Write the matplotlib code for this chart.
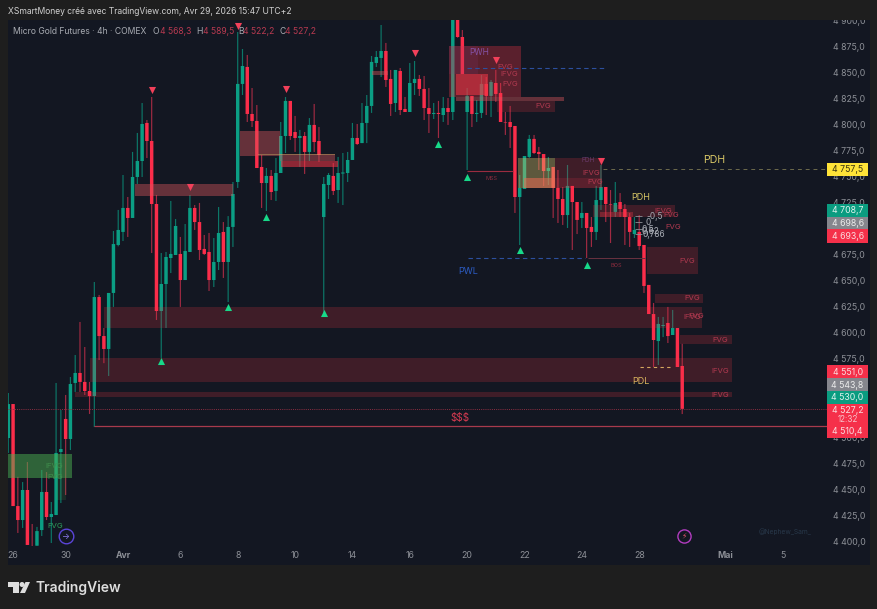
import matplotlib
matplotlib.use("Agg")
import matplotlib.pyplot as plt
from matplotlib.patches import Rectangle, Polygon, Ellipse

plt.rcParams['font.family'] = ['Inter', 'DejaVu Sans']

W, H = 878, 609

opens = [4499.2, 4531.8, 4434, 4420.6, 4449.4, 4393, 4396, 4411, 4447.5, 4423.5,
         4425.4, 4485.8, 4517.5, 4498.3, 4552, 4561.6, 4553, 4544.3, 4539.5, 4634.4,
         4597, 4584.6, 4638.3, 4684.3, 4696.8, 4719.8, 4710.2, 4749.5, 4764.8, 4801.3,
         4784, 4723.6, 4621, 4646.9, 4671.8, 4674.7, 4675.7, 4650.7, 4677.6, 4719.8,
         4706.3, 4680.5, 4677.6, 4650.7, 4668, 4696.8, 4668, 4701.6, 4744.7, 4838.7,
         4855, 4809.9, 4803.2, 4759.1, 4743.7, 4750.5, 4736.1, 4753.3, 4788.8, 4822.4,
         4792.6, 4786.9, 4788.8, 4773.5, 4799.4, 4784, 4711.1, 4741.8, 4750.5, 4737,
         4752.8, 4753.3, 4765.8, 4786.9, 4782, 4801.3, 4817.6, 4858.8, 4863.6, 4870.3,
         4843.5, 4820.4, 4851.1, 4814.7, 4811.8, 4839.6, 4843.5, 4833.9, 4815.6, 4809.9,
         4810.9, 4808.9, 4815.6, 4811.8, 4908, 4883.7, 4811.8, 4827.2, 4809.9, 4810.9,
         4838.7, 4827.2, 4839.6, 4830, 4802.2, 4802.2, 4798.4, 4730.3, 4738, 4768.7,
         4786, 4773.5, 4771.5, 4755.2, 4759.1, 4739, 4728.4, 4713, 4740.9, 4725.5,
         4710.2, 4715, 4701.6, 4696.8, 4727.4, 4739.9, 4723.6, 4716, 4725.5, 4718.8,
         4711.1, 4694.8, 4696.8, 4684.3, 4646, 4618.1, 4592.2, 4606.6, 4609.5, 4598,
         4604.7, 4568.3]
highs = [4542.4, 4531.8, 4462, 4457, 4476.2, 4416.8, 4414, 4468.6, 4466.6, 4437.9,
         4552, 4526.1, 4540.5, 4557.7, 4578.8, 4610.5, 4586.5, 4553, 4648.8, 4636.4,
         4604.7, 4638.3, 4697.7, 4717.9, 4751.4, 4730.3, 4773.5, 4791.7, 4820.4, 4804.1,
         4826.2, 4732.2, 4676.6, 4677.6, 4726.5, 4709.2, 4692, 4704.4, 4732.2, 4722.6,
         4724.6, 4693.9, 4695.8, 4691, 4720.7, 4706.3, 4712, 4744.7, 4888.5, 4872.2,
         4866.5, 4834.8, 4818.5, 4770.6, 4758.1, 4756.2, 4767.7, 4802.2, 4826.2, 4822.4,
         4808, 4794.6, 4792.6, 4806, 4819.5, 4797.4, 4749.5, 4753.3, 4762.9, 4768.7,
         4772.5, 4773.5, 4801.3, 4800.3, 4820.4, 4828.1, 4865.5, 4870.3, 4895.2, 4878,
         4852.1, 4852.1, 4854, 4826.2, 4858.8, 4860.7, 4847.3, 4846.3, 4834.8, 4820.4,
         4822.4, 4826.2, 4825.2, 4910, 4910, 4890.4, 4834.8, 4827.2, 4823.3, 4847.3,
         4845.4, 4842.5, 4852.1, 4839.6, 4811.8, 4817.6, 4798.4, 4751.4, 4769.6, 4789.8,
         4789.8, 4778.3, 4771.5, 4768.7, 4759.1, 4756.2, 4739.9, 4761, 4740.9, 4725.5,
         4725.5, 4715, 4711.1, 4740.9, 4761, 4739.9, 4737, 4744.7, 4734.1, 4723.6,
         4715, 4711.1, 4713, 4684.3, 4646, 4628.7, 4615.3, 4615.3, 4624.9, 4622,
         4604.7, 4589.5]
lows = [4484.9, 4434, 4408.2, 4413, 4396.7, 4386, 4396, 4405.3, 4420.6, 4398.6,
        4425.4, 4436.9, 4444.6, 4487.7, 4543.4, 4543.4, 4540.5, 4522.3, 4509.8, 4574,
        4571, 4558.7, 4624.9, 4683, 4688.1, 4692, 4710.2, 4742.8, 4749.5, 4767.7,
        4676.6, 4612.4, 4576, 4604.7, 4657.4, 4674.7, 4624.9, 4650.7, 4677.6, 4698.7,
        4669.9, 4674.7, 4640.2, 4644, 4660.3, 4652.7, 4629.6, 4682.4, 4739, 4828.1,
        4802.2, 4797.4, 4758.1, 4719.8, 4716.9, 4727.4, 4726.5, 4753.3, 4772.5, 4785,
        4773.5, 4759.1, 4752.4, 4764.8, 4773.5, 4763.9, 4619.1, 4728.4, 4732.2, 4724.6,
        4722.6, 4744.7, 4765.8, 4780.2, 4782, 4782, 4810.9, 4855, 4845.4, 4835.8,
        4808, 4811.8, 4808.9, 4811.8, 4811.8, 4828.1, 4827.2, 4804.1, 4791.7, 4805.1,
        4786.9, 4802.2, 4799.4, 4804.1, 4883, 4848.2, 4756.2, 4797.4, 4802.2, 4806,
        4808.9, 4807, 4821.4, 4802.2, 4789.8, 4777.3, 4715, 4684.3, 4738, 4767.7,
        4771.5, 4756.2, 4740.9, 4741.8, 4710.2, 4705.4, 4703.5, 4700.6, 4679.5, 4694.8,
        4700.6, 4671.8, 4682.4, 4689.1, 4717.9, 4706.3, 4686.2, 4711.1, 4711.1, 4684.3,
        4682.4, 4691, 4679.5, 4638.3, 4618.1, 4567.3, 4569.2, 4596, 4590.3, 4598,
        4567.3, 4522.2]
closes = [4531.8, 4434, 4420.6, 4449.4, 4396.7, 4386, 4410, 4447.5, 4423.5, 4426.4,
          4484.9, 4488.7, 4498.3, 4551, 4561.6, 4553, 4544.3, 4539.5, 4634.4, 4597,
          4584.6, 4638.3, 4685.2, 4698.7, 4719.8, 4710.2, 4749.5, 4764.8, 4800.3, 4784,
          4723.6, 4621, 4646.9, 4672.8, 4675.7, 4702.5, 4650.7, 4678.5, 4719.8, 4706.3,
          4679.5, 4675.7, 4650.7, 4668, 4695.8, 4668, 4701.6, 4733.2, 4838.7, 4855.9,
          4809.9, 4803.2, 4758.1, 4743.7, 4750.5, 4735.1, 4753.3, 4788.8, 4822.4, 4788.8,
          4786.9, 4788.8, 4773.5, 4799.4, 4783, 4770.6, 4742.8, 4751.4, 4736.1, 4753.3,
          4753.8, 4765.8, 4786.9, 4781.1, 4801.3, 4817.6, 4859.8, 4864.5, 4870.3, 4842.5,
          4819.5, 4852.1, 4813.7, 4811.8, 4839.6, 4843.5, 4833.9, 4815.6, 4809.9, 4810.9,
          4809.9, 4815.6, 4811.8, 4908, 4883.7, 4848.2, 4827.2, 4809.9, 4810.9, 4838.7,
          4827.2, 4840.6, 4829.1, 4802.2, 4801.7, 4797.4, 4730.3, 4739, 4769.6, 4786,
          4772.5, 4771.5, 4755.2, 4758.1, 4739, 4728.4, 4713, 4740.9, 4725.5, 4708.3,
          4715, 4700.6, 4696.8, 4727.4, 4739.9, 4723.6, 4723, 4724.6, 4718.8, 4711.1,
          4696.8, 4698.7, 4683.3, 4645, 4618.1, 4593.2, 4608.6, 4607.6, 4597, 4604.7,
          4567.3, 4527.2]

price_ticks = list(range(4400, 4925, 25))
date_bars = [1, 12, 24, 36, 48, 60, 72, 84, 96, 108, 120, 132, 150, 162]
date_labels = ['26', '30', 'Avr', '6', '8', '10', '14', '16', '20', '22', '24', '28', 'Mai', '5']

# swing markers
swing_high_bars = [30, 38, 48, 58, 85, 102, 124]
swing_high_prices = [4832.9, 4739.9, 4894.3, 4833.9, 4868.4, 4861.7, 4764.8]
swing_low_bars = [46, 32, 54, 66, 90, 96, 107, 121]
swing_low_prices = [4624.9, 4573, 4711.1, 4619.1, 4781.1, 4749.5, 4679.5, 4665.1]

# zones: start bar, end bar, top price, bottom price
faint_zones = [(20, 145.1, 4624.9, 4604.7), (17.1, 151.4, 4575.5, 4553), (13.95, 151.4, 4543.4, 4538.5),
               (102.2, 114.4, 4822.4, 4811.8), (114.4, 124.2, 4767.7, 4748.5), (122.3, 139.5, 4722.6, 4711.1),
               (133.6, 144.3, 4682.4, 4656.5), (135.3, 145.3, 4637.3, 4628.7), (140.5, 151.4, 4598, 4589.4)]
mid_zones = [(92.2, 107.3, 4875.1, 4826.2), (114.4, 124.2, 4748.5, 4739), (123.8, 130.7, 4716, 4711.1)]
muted_zones = [(26.5, 47, 4742.8, 4731.3), (48.5, 56.8, 4793.6, 4769.6), (56.8, 68.3, 4771.5, 4764.8),
               (76, 79.4, 4851.1, 4847.3), (93.7, 116.3, 4826.2, 4822.4)]
tint_zones = [(92.2, 98.3, 4875.1, 4848.2)]
strong_zones = [(57, 69, 4764.8, 4759.1), (93.7, 100.4, 4848.2, 4828.1), (107.9, 114.4, 4748.5, 4739)]
tan_zones = [(106.6, 114.4, 4767.7, 4739), (52.2, 68.3, 4771.5, 4770.5)]
green_zones = [(-0.1, 13.3, 4483.9, 4460.9)]
pale_green_zones = [(10, 12, 4460.9, 4439.8)]

# zone and structure labels: bar, price, text
red_labels = [(103.9, 4855, 'FVG'), (104.8, 4848.2, 'IFVG'), (105, 4838.7, 'FVG'), (111.9, 4817.6, 'FVG'),
              (121.9, 4753.3, 'IFVG'), (122.7, 4744.7, 'FVG'), (137, 4716.9, 'IFVG'), (138.6, 4713, 'FVG'),
              (139.1, 4701.6, 'FVG'), (142, 4669, 'FVG'), (143, 4633.5, 'FVG'), (143, 4615.3, 'IFVG'),
              (144, 4616.2, 'FVG'), (149, 4593.2, 'FVG'), (148.9, 4563.5, 'IFVG'), (148.9, 4540.5, 'IFVG')]
green_labels = [(9.6, 4472.4, 'IFVG'), (9.8, 4461.8, 'FVG')]
fib_labels = [(135.3, 4712, '-0,5'), (133.8, 4706.3, '0'), (133.8, 4699.6, '0,5'),
              (134.4, 4696.8, '0,62'), (135.1, 4694.8, '0,786')]
fib_prices = [4712, 4706.3, 4699.6, 4694.8]

# price tags on the axis: centre price, text, fill, text colour
tag_prices = [4756.7, 4716.9, 4704.9, 4692.9, 4562.5, 4550, 4537.6]
tag_texts = ['4\u00a0757,5', '4\u00a0708,7', '4\u00a0698,6', '4\u00a0693,6', '4\u00a0551,0', '4\u00a0543,8', '4\u00a0530,0']
tag_fills = ['#ffe338', '#0a9c80', '#85868d', '#f5304a', '#f5304a', '#85868d', '#0a9c80']
tag_colors = ['#3a3410', '#dff3ee', '#ececec', '#fbdcdf', '#fbdcdf', '#ececec', '#dff3ee']

BG = '#1e1e1e'
PANE = '#131722'
GREEN = '#0b9e84'
RED = '#fb2d4a'
GREEN_WICK = '#0c7768'
RED_WICK = '#a02a42'
AXIS_TEXT = '#8d9097'
LABEL_RED = '#b23a50'


def fig_text(x, y, s, **kw):
    kw.setdefault('va', 'center')
    kw.setdefault('zorder', 21)
    return fig.text(x / W, 1 - y / H, s, **kw)


def fig_rect(x0, y0, x1, y1, color, zorder):
    fig.add_artist(Rectangle((x0 / W, 1 - y1 / H), (x1 - x0) / W, (y1 - y0) / H,
                             transform=fig.transFigure, facecolor=color, edgecolor='none', zorder=zorder))


def draw_zones(zones, color, alpha):
    for start, end, top, bottom in zones:
        ax.add_patch(Rectangle((start, bottom), end - start, top - bottom,
                               facecolor=color, edgecolor='none', alpha=alpha, zorder=4))


fig = plt.figure(figsize=(W / 100, H / 100), dpi=100, facecolor=BG)
fig_rect(8, 20, 870, 565, PANE, -5)

ax = fig.add_axes([8 / W, 1 - 546 / H, 820 / W, 526 / H], facecolor='none')
ax.set_xlim(-0.06, 171.5)
ax.set_ylim(4395.7, 4900)
for s in ax.spines.values():
    s.set_visible(False)

bars = list(range(len(opens)))
wick_colors = [GREEN_WICK if c >= o else RED_WICK for o, c in zip(opens, closes)]
body_colors = [GREEN if c >= o else RED for o, c in zip(opens, closes)]
wicks = ax.vlines(bars, lows, highs, colors=wick_colors, linewidth=0.85, zorder=2)
wicks.set_snap(False)
bodies = ax.bar(bars, [abs(c - o) for o, c in zip(opens, closes)], bottom=[min(o, c) for o, c in zip(opens, closes)],
                width=0.72, color=body_colors, linewidth=0, zorder=3)
for body in bodies:
    body.set_snap(False)

draw_zones(faint_zones, '#f23645', 0.2)
draw_zones(mid_zones, '#f23645', 0.32)
draw_zones(muted_zones, '#d8565c', 0.42)
draw_zones(tint_zones, '#8a3f78', 0.16)
draw_zones(strong_zones, '#f23645', 0.55)
draw_zones(tan_zones, '#d7c36a', 0.38)
draw_zones(green_zones, '#4caf50', 0.5)
draw_zones(pale_green_zones, '#4caf50', 0.14)

# levels
ax.hlines(4527.2, 0, 171.5, colors='#8c2f42', linewidth=0.7, linestyles=(0, (1, 1.2)), zorder=5)
ax.hlines(4510.4, 18, 171.5, colors='#a83a4c', linewidth=0.9, zorder=5)
ax.hlines(4757.5, 124.4, 171, colors='#6d6a4c', linewidth=0.7, linestyles=(0, (4, 4)), zorder=5)
ax.hlines(4671.4, 96.2, 120.6, colors='#2c4f9e', linewidth=0.8, linestyles=(0, (4, 3)), zorder=5)
ax.hlines(4671.4, 121.3, 133.2, colors='#6a3240', linewidth=0.7, zorder=5)
ax.hlines(4854.3, 96, 125.2, colors='#2c4f9e', linewidth=0.8, linestyles=(0, (4, 3)), zorder=5)
ax.hlines(4755.6, 96, 105.6, colors='#9a2c40', linewidth=0.8, zorder=5)
ax.hlines(4567.3, 132.2, 138.4, colors='#d6a860', linewidth=0.8, linestyles=(0, (3, 3)), zorder=5)
ax.hlines(fib_prices, 131.2, 132.6, colors='#8d9097', linewidth=0.6, zorder=5)

ax.scatter(swing_high_bars, swing_high_prices, marker='v', s=26, color='#f2405a', linewidths=0, zorder=6)
ax.scatter(swing_low_bars, swing_low_prices, marker='^', s=26, color='#17d989', linewidths=0, zorder=6)

for bar, price, text in red_labels:
    ax.text(bar, price, text, color=LABEL_RED, fontsize=5.6, ha='center', va='center', zorder=7)
for bar, price, text in green_labels:
    ax.text(bar, price, text, color='#3f8f4c', fontsize=5.6, ha='center', va='center', zorder=7)
for bar, price, text in fib_labels:
    ax.text(bar, price, text, color='#a9adb5', fontsize=6, ha='center', va='center', zorder=7)

ax.text(9.8, 4414.9, 'FVG', color='#2f9e5c', fontsize=5.6, ha='center', va='center', zorder=7)
ax.text(121.3, 4765.8, 'PDH', color='#6b3c6e', fontsize=4.6, ha='center', va='center', zorder=7)
ax.text(96.4, 4869.3, 'PWH', color='#8453a8', fontsize=6, ha='left', va='center', zorder=7)
ax.text(101.2, 4748.5, 'MSS', color='#8c2c3e', fontsize=4, ha='center', va='center', zorder=7)
ax.text(127.3, 4664.2, 'BOS', color='#8c2c3e', fontsize=4, ha='center', va='center', zorder=7)
ax.text(96.2, 4658.4, 'PWL', color='#2c5cc4', fontsize=6.6, ha='center', va='center', zorder=7)
ax.text(132.4, 4730.3, 'PDH', color='#d9c766', fontsize=6.5, ha='center', va='center', zorder=7)
ax.text(147.6, 4765.8, 'PDH', color='#d9c766', fontsize=7.6, ha='center', va='center', zorder=7)
ax.text(132.4, 4553, 'PDL', color='#d9b45e', fontsize=6.5, ha='center', va='center', zorder=7)
ax.text(94.5, 4518.4, '$$$', color='#d23a50', fontsize=7.2, ha='center', va='center', zorder=7)

ax.text(162.5, 4409.5, '@Nephew_Sam_', color='#28384a', fontsize=4.8, ha='center', va='center', zorder=7)

# session break and alert badges
ax.plot([12], [4405.3], 'o', ms=10.5, mfc=PANE, mec='#5b45d8', mew=1.0, zorder=8)
ax.text(12, 4405.3, '\u2192', color='#8d7cf0', fontsize=6, ha='center', va='center', zorder=9)
ax.plot([141.4], [4405.3], 'o', ms=9.5, mfc=PANE, mec='#b23cc0', mew=1.0, zorder=8)
ax.text(141.4, 4405.3, '\u26a1', color='#e0526c', fontsize=5.5, ha='center', va='center', family='DejaVu Sans', zorder=9)

ax.set_yticks(price_ticks)
ax.set_yticklabels([f"{p:,.1f}".replace(",", "\u00a0").replace(".", ",") for p in price_ticks])
ax.yaxis.tick_right()
ax.tick_params(axis='y', length=0, pad=3.6, labelsize=6.3, labelcolor=AXIS_TEXT)
ax.set_xticks(date_bars)
ax.set_xticklabels(date_labels)
ax.tick_params(axis='x', length=0, pad=3.6, labelsize=6.3, labelcolor=AXIS_TEXT)
for lbl in ax.get_xticklabels():
    if lbl.get_text() in ('Avr', 'Mai'):
        lbl.set_fontweight('bold')

# axis price tags
for price, text, fill, color in zip(tag_prices, tag_texts, tag_fills, tag_colors):
    ax.add_patch(Rectangle((171.3, price - 6.3), 8.6, 12.6, facecolor=fill, edgecolor='none', clip_on=False, zorder=10))
    ax.text(175.6, price, text, color=color, fontsize=6.3, ha='center', va='center', clip_on=False, zorder=11)
ax.add_patch(Rectangle((171.3, 4499.2), 8.6, 32.6, facecolor='#f5304a', edgecolor='none', clip_on=False, zorder=10))
ax.text(175.6, 4526, '4\u00a0527,2', color='#fbdcdf', fontsize=6.3, ha='center', va='center', zorder=11)
ax.text(175.6, 4517, '12:32', color='#f7c3ca', fontsize=5.8, ha='center', va='center', zorder=11)
ax.text(175.6, 4505.5, '4\u00a0510,4', color='#fbdcdf', fontsize=6.3, ha='center', va='center', zorder=11)

# header and legend
fig_rect(0, 0, W, 20, BG, 20)
fig_rect(0, 565, W, H, BG, 20)
fig_text(8, 11.5, 'XSmartMoney créé avec TradingView.com, Avr 29, 2026 15:47 UTC+2', color='#cfcfcf', fontsize=6.15)
fig_text(13, 31, 'Micro Gold Futures · 4h · COMEX', color='#a8abb2', fontsize=6.2)
for x, letter in [(153, 'O'), (196, 'H'), (238, 'B'), (279, 'C')]:
    fig_text(x, 31, letter, color='#a8abb2', fontsize=6.2)
for x, value in [(160, '4\u00a0568,3'), (203, '4\u00a0589,5'), (243, '4\u00a0522,2'), (285, '4\u00a0527,2')]:
    fig_text(x, 31, value, color='#b83a50', fontsize=6.2)

# TradingView wordmark
logo = '#dddddd'
fig.add_artist(Polygon([(8 / W, 1 - 582 / H), (19 / W, 1 - 582 / H), (19 / W, 1 - 593 / H), (13.5 / W, 1 - 593 / H),
                        (13.5 / W, 1 - 587 / H), (8 / W, 1 - 587 / H)], closed=True, transform=fig.transFigure,
                       facecolor=logo, edgecolor='none', zorder=21))
fig.add_artist(Ellipse((22 / W, 1 - 584.5 / H), 5 / W, 5 / H, transform=fig.transFigure,
                       facecolor=logo, edgecolor='none', zorder=21))
fig.add_artist(Polygon([(25.5 / W, 1 - 582 / H), (30 / W, 1 - 582 / H), (25 / W, 1 - 593 / H), (20 / W, 1 - 593 / H)],
                       closed=True, transform=fig.transFigure, facecolor=logo, edgecolor='none', zorder=21))
fig_text(35.5, 587.5, 'TradingView', color=logo, fontsize=10, fontweight='semibold')

fig.savefig('out.png', dpi=100, facecolor=BG)
